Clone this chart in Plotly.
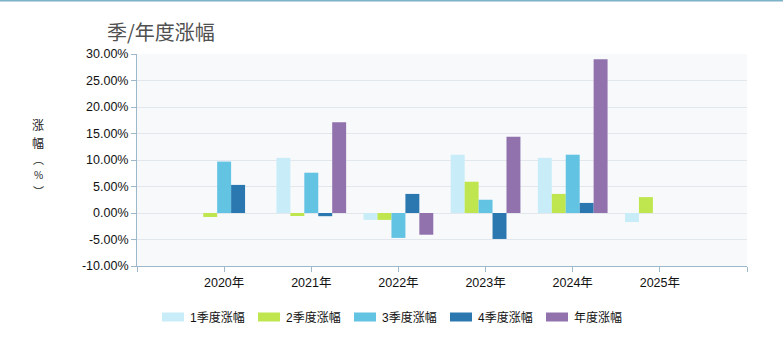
import plotly.graph_objects as go

years = ["2020年", "2021年", "2022年", "2023年", "2024年", "2025年"]
series_names = ["1季度涨幅", "2季度涨幅", "3季度涨幅", "4季度涨幅", "年度涨幅"]
q1 = [None, 10.4, -1.3, 11.0, 10.4, -1.7]
q2 = [-0.75, -0.57, -1.3, 5.9, 3.6, 3.0]
q3 = [9.7, 7.6, -4.7, 2.5, 11.0, None]
q4 = [5.3, -0.6, 3.6, -4.9, 1.9, None]
annual = [None, 17.1, -4.1, 14.4, 29.0, None]
y_ticks = [-10, -5, 0, 5, 10, 15, 20, 25, 30]
y_title_chars = ["涨", "幅", "︵", "%", "︶"]

colors = ["#c9edf8", "#bfe64f", "#63c3e3", "#2b78b1", "#9172ad"]
series = [q1, q2, q3, q4, annual]

W, H = 783, 353
L, R, T, B = 137, 36, 54, 87
FONT = "Liberation Sans, Arial, Noto Sans CJK SC, sans-serif"

fig = go.Figure()
xpos = list(range(len(years)))
for name, vals, c in zip(series_names, series, colors):
    fig.add_trace(go.Bar(x=xpos, y=vals, name=name, marker=dict(color=c, line=dict(width=0)),
                         showlegend=False))

fig.update_layout(
    width=W, height=H,
    margin=dict(l=L, r=R, t=T, b=B, pad=0),
    paper_bgcolor="white",
    plot_bgcolor="#f7f9fb",
    barmode="group", bargap=0.2, bargroupgap=0,
    font=dict(family=FONT, size=12, color="#111"),
    title=dict(text="季/年度涨幅", x=107 / W, xanchor="left", xref="container",
               y=1 - 33 / H, yanchor="middle", yref="container",
               font=dict(size=20, color="#505050", family="Noto Sans CJK SC, sans-serif")),
)

fig.update_xaxes(
    range=[-1, len(years)], tickmode="array",
    tickvals=list(range(-1, len(years) + 1)),
    ticktext=[""] + years + [""],
    showgrid=False, zeroline=False, showline=True, linecolor="#9db8ca", linewidth=1,
    ticks="outside", ticklen=5, tickcolor="#9db8ca",
    tickfont=dict(size=12.5, color="#111"),
)
fig.update_yaxes(
    range=[-10, 30], tickmode="array", tickvals=y_ticks,
    ticktext=[f"{v:.2f}%" for v in y_ticks],
    showgrid=True, gridcolor="#e2e7ee", gridwidth=1,
    zeroline=True, zerolinecolor="#e2e7ee", zerolinewidth=1,
    showline=True, linecolor="#9db8ca", linewidth=1,
    ticks="outside", ticklen=5, tickcolor="#9db8ca",
    tickfont=dict(size=12.5, color="#111"),
)

pw, ph = W - L - R, H - T - B

# top border line
fig.add_shape(type="line", xref="paper", yref="paper", x0=-L / pw, x1=1 + R / pw,
              y0=1 + (T - 0.5) / ph, y1=1 + (T - 0.5) / ph,
              line=dict(color="#7db2c9", width=2))

# y axis title, vertical (one character per line)
for ch, yy, fs in zip(y_title_chars, [124, 142, 159, 174, 191], [12, 12, 11, 10, 11]):
    fig.add_annotation(text=ch, xref="paper", yref="paper",
                       x=(38 - L) / pw, y=1 - (yy - T) / ph,
                       xanchor="center", yanchor="middle", showarrow=False,
                       font=dict(size=fs, color="#222",
                                 family="Noto Sans CJK SC, sans-serif"))

# custom legend
leg_y = 317
for i, (name, c) in enumerate(zip(series_names, colors)):
    x0 = 162 + 96 * i
    fig.add_shape(type="rect", xref="paper", yref="paper",
                  x0=(x0 - L) / pw, x1=(x0 + 22 - L) / pw,
                  y0=1 - (leg_y - 4.5 - T) / ph, y1=1 - (leg_y + 4.5 - T) / ph,
                  fillcolor=c, line=dict(width=0))
    fig.add_annotation(text=name, xref="paper", yref="paper",
                       x=(x0 + 26 - L) / pw, y=1 - (leg_y - T) / ph,
                       xanchor="left", yanchor="middle", showarrow=False,
                       font=dict(size=12, color="#111"))

fig.write_html("out.html")
